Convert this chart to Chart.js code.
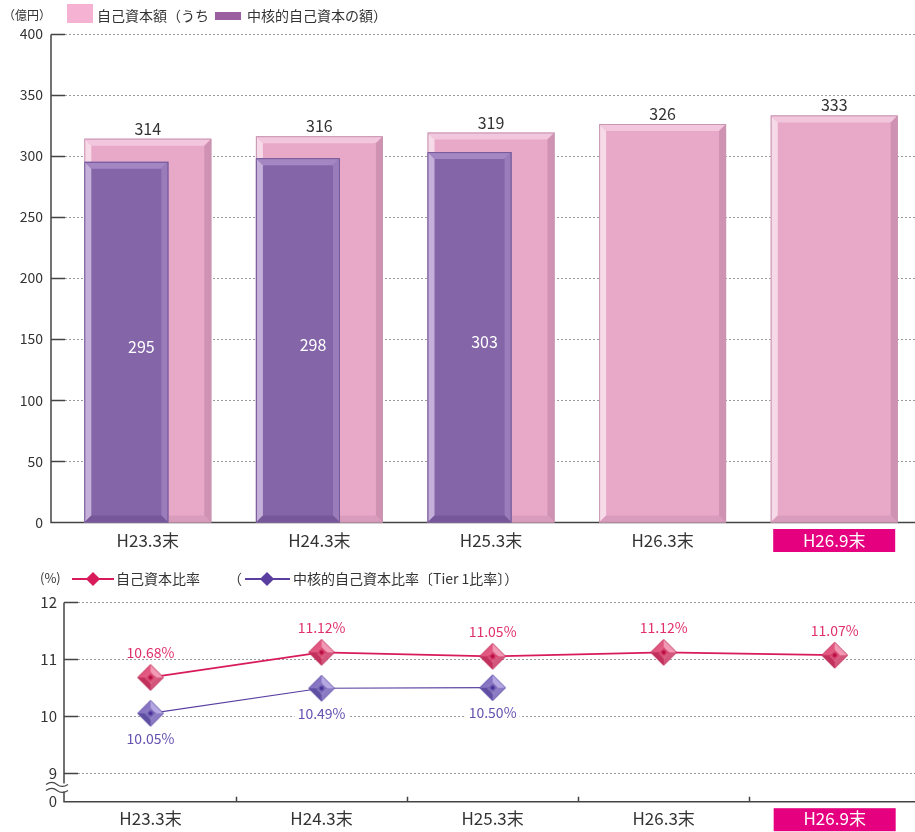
<!DOCTYPE html>
<html>
<head>
<meta charset="utf-8">
<script src="https://cdn.jsdelivr.net/npm/chart.js@4.4.1/dist/chart.umd.min.js"></script>
<style>
body{margin:0;background:#fff;width:915px;height:832px;overflow:hidden;position:relative;font-family:"Noto Sans CJK JP",sans-serif;color:#333}
canvas{position:absolute;left:0}
#top{top:0}
#bottom{top:560px}
.lg{position:absolute;font-size:14px;line-height:18px;white-space:nowrap;color:#333}
.sw{position:absolute}
.dm{position:absolute;width:10px;height:10px;transform:rotate(45deg)}
</style>
</head>
<body>
<canvas id="top" width="920" height="560"></canvas>
<canvas id="bottom" width="926" height="272"></canvas>

<div class="lg" style="left:3px;top:6px;font-size:12px">（億円）</div>
<div class="sw" style="left:67px;top:4px;width:26px;height:19px;background:#f6b2d3"></div>
<div class="lg" style="left:97px;top:6px">自己資本額（うち</div>
<div class="sw" style="left:215px;top:12px;width:26px;height:8px;background:#9b5fa0"></div>
<div class="lg" style="left:247px;top:6px">中核的自己資本の額）</div>

<div class="lg" style="left:40px;top:569px;font-size:13px">(%)</div>
<div class="sw" style="left:72px;top:578px;width:42px;height:2px;background:#d81b5a"></div>
<div class="dm" style="left:88px;top:574px;background:#d81b5a"></div>
<div class="lg" style="left:116px;top:569px">自己資本比率</div>
<div class="lg" style="left:228px;top:569px">（</div>
<div class="sw" style="left:245px;top:578px;width:45px;height:2px;background:#5a3fa0"></div>
<div class="dm" style="left:262px;top:574px;background:#5a3fa0"></div>
<div class="lg" style="left:293px;top:569px">中核的自己資本比率〔Tier 1比率〕）</div>

<script>
// values
const periods = ['H23.3末', 'H24.3末', 'H25.3末', 'H26.3末', 'H26.9末'];
const capital = [314, 316, 319, 326, 333];
const coreCapital = [295, 298, 303, null, null];
const capitalTicks = [0, 50, 100, 150, 200, 250, 300, 350, 400];
const capitalRatio = [10.68, 11.12, 11.05, 11.12, 11.07];
const tier1Ratio = [10.05, 10.49, 10.50, null, null];
const ratioTicks = [9, 10, 11, 12];
const ratioBreakLabel = '0';
const highlightIndex = 4;

const FONT = '"Noto Sans CJK JP", sans-serif';
const PINK = '#d81b5a', PURPLE = '#5a3fa0';

// axis lines, dotted grid, short inner ticks
function axesPlugin(axisX, tickLen, dividers){
    return {
        id: 'axes',
        beforeDraw(chart){
            const {ctx, chartArea: a, scales: {x}} = chart;
            const px = x.getPixelForTick(highlightIndex);
            ctx.save();
            ctx.fillStyle = '#e4007f';
            ctx.fillRect(px - 61, a.bottom + 6.5, 122, 23);
            ctx.restore();
        },
        beforeDatasetsDraw(chart){
            const {ctx, chartArea: a, scales: {x, y}} = chart;
            ctx.save();
            ctx.strokeStyle = '#9a9a9a';
            ctx.lineWidth = 1;
            ctx.setLineDash([2, 2]);
            y.ticks.forEach(t => {
                if (t.value === y.min) return;
                const py = Math.round(y.getPixelForValue(t.value)) + 0.5;
                ctx.beginPath();
                ctx.moveTo(axisX + tickLen, py);
                ctx.lineTo(a.right, py);
                ctx.stroke();
            });
            ctx.setLineDash([]);
            ctx.strokeStyle = '#444';
            ctx.lineWidth = 1.5;
            ctx.beginPath();
            y.ticks.forEach(t => {
                if (t.value === y.min) return;
                const py = Math.round(y.getPixelForValue(t.value)) + 0.5;
                ctx.moveTo(axisX, py);
                ctx.lineTo(axisX + tickLen, py);
            });
            ctx.moveTo(axisX, Math.round(y.getPixelForValue(y.max)) + 0.5);
            ctx.lineTo(axisX, a.bottom);
            ctx.lineTo(a.right, a.bottom);
            if (dividers) {
                for (let i = 1; i < periods.length; i++) {
                    const dx = Math.round((x.getPixelForTick(i - 1) + x.getPixelForTick(i)) / 2) + 0.5;
                    ctx.moveTo(dx, a.bottom);
                    ctx.lineTo(dx, a.bottom - 5);
                }
            }
            ctx.stroke();
            ctx.restore();
        }
    };
}

// ---------- top: bars ----------
const bevel = {
    0: {top: '#f2c6dc', left: '#f7dae8', right: '#cf92b3', bottom: '#d99cbd', edge: '#c796b2'},
    1: {top: '#a486c2', left: '#c5b0da', right: '#9a7cba', bottom: '#76589a', edge: '#765a98'}
};

const barPlugin = {
    id: 'bars',
    afterDatasetsUpdate(chart){
        const pink = chart.getDatasetMeta(0).data;
        chart.getDatasetMeta(1).data.forEach((el, i) => {
            const p = pink[i];
            el.x = p.x - p.width / 2 + el.width / 2;
        });
    },
    afterDatasetDraw(chart, args){
        const st = bevel[args.index];
        const ctx = chart.ctx;
        const b = 7;
        args.meta.data.forEach((el, i) => {
            if (chart.data.datasets[args.index].data[i] == null) return;
            const l = el.x - el.width / 2, r = el.x + el.width / 2, t = el.y, bt = el.base;
            const quad = (pts, c) => {
                ctx.fillStyle = c;
                ctx.beginPath();
                ctx.moveTo(pts[0][0], pts[0][1]);
                pts.slice(1).forEach(p => ctx.lineTo(p[0], p[1]));
                ctx.closePath();
                ctx.fill();
            };
            ctx.save();
            quad([[l, t], [r, t], [r - b, t + b], [l + b, t + b]], st.top);
            quad([[l, t], [l + b, t + b], [l + b, bt - b], [l, bt]], st.left);
            quad([[r, t], [r, bt], [r - b, bt - b], [r - b, t + b]], st.right);
            quad([[l, bt], [l + b, bt - b], [r - b, bt - b], [r, bt]], st.bottom);
            ctx.strokeStyle = st.edge;
            ctx.lineWidth = 1;
            ctx.strokeRect(l + 0.5, t + 0.5, el.width - 1, bt - t - 1);
            ctx.restore();
        });
    },
    afterDatasetsDraw(chart){
        const ctx = chart.ctx;
        ctx.save();
        ctx.font = '16px ' + FONT;
        ctx.textAlign = 'center';
        chart.getDatasetMeta(0).data.forEach((el, i) => {
            ctx.fillStyle = '#333';
            ctx.textBaseline = 'bottom';
            ctx.fillText(capital[i], el.x, el.y - 2);
        });
        chart.getDatasetMeta(1).data.forEach((el, i) => {
            if (coreCapital[i] == null) return;
            ctx.fillStyle = '#fff';
            ctx.textBaseline = 'middle';
            ctx.fillText(coreCapital[i], el.x + 15, (el.y + el.base) / 2 + 5);
        });
        ctx.restore();
    }
};

new Chart('top', {
    type: 'bar',
    data: {
        labels: periods,
        datasets: [
            {data: capital, backgroundColor: '#e8a8c8', grouped: false, order: 2,
             barPercentage: 0.74, categoryPercentage: 1},
            {data: coreCapital, backgroundColor: '#8465a8', grouped: false, order: 1,
             barPercentage: 0.49, categoryPercentage: 1}
        ]
    },
    options: {
        responsive: false,
        animation: false,
        events: [],
        layout: {padding: {top: 33.5, left: 0, right: 0, bottom: 0}},
        plugins: {legend: {display: false}, tooltip: {enabled: false}},
        scales: {
            x: {
                grid: {display: false, drawTicks: false},
                border: {display: false},
                ticks: {
                    padding: 8,
                    font: {family: FONT, size: 17},
                    color: ctx => ctx.index === highlightIndex ? '#fff' : '#333'
                },
                afterFit: s => { s.height = 37.5; }
            },
            y: {
                min: 0, max: 400,
                afterBuildTicks: s => { s.ticks = capitalTicks.map(v => ({value: v})); },
                grid: {display: false, drawTicks: false},
                border: {display: false},
                ticks: {padding: 19, font: {family: FONT, size: 14}, color: '#333'},
                afterFit: s => { s.width = 62; }
            }
        }
    },
    plugins: [axesPlugin(51, 14, false), barPlugin]
});

// ---------- bottom: ratios ----------
function diamond(size, c){
    const cv = document.createElement('canvas');
    cv.width = cv.height = size;
    const g = cv.getContext('2d');
    const m = size / 2, r = m - 1, q = r * 0.42;
    const O = [[m, m - r], [m + r, m], [m, m + r], [m - r, m]];
    const I = [[m, m - q], [m + q, m], [m, m + q], [m - q, m]];
    [[0, 1, c.ur], [1, 2, c.lr], [2, 3, c.ll], [3, 0, c.ul]].forEach(([a, b, col]) => {
        g.fillStyle = col;
        g.beginPath();
        g.moveTo(O[a][0], O[a][1]); g.lineTo(O[b][0], O[b][1]);
        g.lineTo(I[b][0], I[b][1]); g.lineTo(I[a][0], I[a][1]);
        g.closePath(); g.fill();
    });
    g.fillStyle = c.mid;
    g.beginPath();
    I.forEach((p, k) => k ? g.lineTo(p[0], p[1]) : g.moveTo(p[0], p[1]));
    g.closePath(); g.fill();
    g.fillStyle = c.dot;
    g.beginPath(); g.arc(m, m, 2, 0, Math.PI * 2); g.fill();
    g.strokeStyle = c.edge; g.lineWidth = 1;
    g.beginPath();
    O.forEach((p, k) => k ? g.lineTo(p[0], p[1]) : g.moveTo(p[0], p[1]));
    g.closePath(); g.stroke();
    return cv;
}
const pinkMark = diamond(28, {ul: '#e2577f', ur: '#f29ab5', lr: '#d4567c', ll: '#c2305c', mid: '#d8466f', dot: '#b80d45', edge: '#c23a64'});
const purpleMark = diamond(28, {ul: '#8775c4', ur: '#b5a8e2', lr: '#8a7bc4', ll: '#5f4ea2', mid: '#7868b8', dot: '#4a2f98', edge: '#6a5aac'});

const ratioPlugin = {
    id: 'ratioLabels',
    afterDatasetsDraw(chart){
        const ctx = chart.ctx;
        ctx.save();
        ctx.font = '14px ' + FONT;
        ctx.textAlign = 'center';
        ctx.textBaseline = 'middle';
        [[0, '#e0306a', -25], [1, '#6650b0', 25]].forEach(([di, col, off]) => {
            const vals = chart.data.datasets[di].data;
            chart.getDatasetMeta(di).data.forEach((pt, i) => {
                if (vals[i] == null) return;
                const txt = vals[i].toFixed(2) + '%';
                if (off > 0) {
                    const w = ctx.measureText(txt).width;
                    ctx.fillStyle = '#fff';
                    ctx.fillRect(pt.x - w / 2 - 3, pt.y + off - 8, w + 6, 16);
                }
                ctx.fillStyle = col;
                ctx.fillText(txt, pt.x, pt.y + off);
            });
        });
        ctx.restore();
    },
    afterDraw(chart){
        // axis break mark
        const {ctx, scales: {y}} = chart;
        const c = (y.getPixelForValue(ratioTicks[0]) + y.getPixelForValue(y.min)) / 2;
        ctx.save();
        ctx.fillStyle = '#fff';
        ctx.fillRect(60, c - 4, 8, 8);
        ctx.strokeStyle = '#444';
        ctx.lineWidth = 1.2;
        [-3, 3].forEach(d => {
            const yy = c + d;
            ctx.beginPath();
            ctx.moveTo(46, yy);
            ctx.quadraticCurveTo(52, yy - 4, 57, yy);
            ctx.quadraticCurveTo(62, yy + 4, 68, yy);
            ctx.stroke();
        });
        ctx.restore();
    }
};

new Chart('bottom', {
    type: 'line',
    data: {
        labels: periods,
        datasets: [
            {data: capitalRatio, borderColor: PINK, borderWidth: 1.8, pointStyle: pinkMark, fill: false},
            {data: tier1Ratio, borderColor: PURPLE, borderWidth: 1.2, pointStyle: purpleMark, fill: false}
        ]
    },
    options: {
        responsive: false,
        animation: false,
        events: [],
        layout: {padding: {top: 42.2, left: 0, right: 0, bottom: 0}},
        plugins: {legend: {display: false}, tooltip: {enabled: false}},
        scales: {
            x: {
                offset: true,
                grid: {display: false, drawTicks: false},
                border: {display: false},
                ticks: {
                    padding: 7,
                    font: {family: FONT, size: 17},
                    color: ctx => ctx.index === highlightIndex ? '#fff' : '#333'
                },
                afterFit: s => { s.height = 30.3; }
            },
            y: {
                min: 8.5, max: 12,
                afterBuildTicks: s => { s.ticks = [8.5, ...ratioTicks].map(v => ({value: v})); },
                grid: {display: false, drawTicks: false},
                border: {display: false},
                ticks: {
                    padding: 8,
                    font: {family: FONT, size: 15},
                    color: '#333',
                    callback: v => v < ratioTicks[0] ? ratioBreakLabel : v
                },
                afterFit: s => { s.width = 65; }
            }
        }
    },
    plugins: [axesPlugin(64, 14, true), ratioPlugin]
});
</script>
</body>
</html>
